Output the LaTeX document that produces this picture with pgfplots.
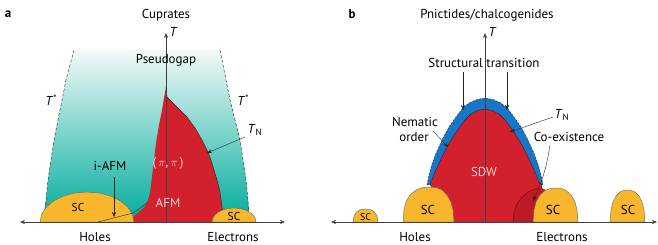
\documentclass[border=0pt]{standalone}
\usepackage{fontspec}
\setmainfont{PT Sans}
\usepackage{pgfplots}
\pgfplotsset{compat=1.18}
\usetikzlibrary{arrows.meta}
\definecolor{afmred}{RGB}{210,32,44}
\definecolor{coexred}{RGB}{188,26,36}
\definecolor{scyel}{RGB}{248,182,44}
\definecolor{nemblue}{RGB}{22,118,200}
\definecolor{tealbot}{RGB}{0,172,156}
\definecolor{tealmid}{RGB}{80,192,181}
\definecolor{tealtop}{RGB}{242,249,248}
\definecolor{txt}{RGB}{80,80,80}
\definecolor{lbl}{RGB}{245,210,210}
\newcommand{\fs}{\fontsize{13}{15}\selectfont}
\newcommand{\fss}{\fontsize{11.5}{13}\selectfont}
\begin{document}
\begin{tikzpicture}
\begin{axis}[
  at={(0,0)}, anchor=south west,
  width=658bp, height=245bp, scale only axis,
  xmin=0, xmax=658, ymin=0, ymax=245, y dir=reverse,
  axis lines=none, clip=false,
  every node/.style={text=txt},
]
%%%%%%%%%%%% Panel a
% pseudogap (teal gradient)
\addplot[draw=none, top color=tealtop, middle color=tealmid, bottom color=tealbot] coordinates {
 (74,50) (70,65) (66,80) (62,100) (58,120) (54,140) (51,160) (48,180) (46,200) (44,212) (43,222)
 (250,222) (249,212) (248,200) (246,180) (243,160) (240,140) (235,120) (230,100) (226,80) (223,65) (220,50)} -- cycle;
\addplot[black!85, thin, dash pattern=on 3pt off 2pt] coordinates {
 (74,50) (70,65) (66,80) (62,100) (58,120) (54,140) (51,160) (48,180) (46,200) (45,210)};
\addplot[black!85, thin, dash pattern=on 3pt off 2pt] coordinates {
 (220,50) (223,65) (226,80) (230,100) (235,120) (240,140) (243,160) (246,180) (248,200) (248.5,211)};
% AFM
\addplot[fill=afmred, draw=none] coordinates {
 (166,87) (167,97) (177,107) (187,117) (195,128) (202,140) (207,150) (211,160) (214,170) (217,180) (220,192) (222,207) (224,222)
 (130,222) (134,216) (140,211) (145,206) (148,200) (150,193) (151,185) (152,177) (154,160) (156,143) (159,125) (162,110) (164,98)} -- cycle;
\addplot[black!85, thin] coordinates {
 (166,87) (167,97) (177,107) (187,117) (195,128) (202,140) (207,150) (211,160) (214,170) (217,180) (220,192) (222,207) (224,222)};
% SC domes
\addplot[fill=scyel, draw=black!60, thin] coordinates {
 (134,222) (132.4,214.2) (127.7,207) (120.2,200.8) (110.5,196) (99.2,193) (87,192) (74.8,193) (63.5,196) (53.8,200.8) (46.3,207) (41.6,214.2) (40,222)} -- cycle;
\addplot[fill=scyel, draw=black!60, thin] coordinates {
 (256,222) (255.3,218.4) (253.1,215) (249.6,212.1) (245,209.9) (239.7,208.5) (234,208) (228.3,208.5) (223,209.9) (218.4,212.1) (214.9,215) (212.7,218.4) (212,222)} -- cycle;
% i-AFM line
\addplot[black!85, thin] coordinates {(98,222) (133,213) (147,203)};
% axes
\draw[black!75, thin, {Stealth[length=5pt,width=4pt]}-{Stealth[length=5pt,width=4pt]}] (20,222) -- (285,222);
\draw[black!75, thin, -{Stealth[length=5pt,width=4pt]}] (166,222) -- (166,33);
% arrows
\draw[black!85, thin, -{Stealth[length=5pt,width=4pt]}] (245,137) -- (207,153);
\draw[black!85, thin, -{Stealth[length=5pt,width=4pt]}] (114,177) -- (114,217);
% texts
\node[font=\fs\bfseries, text=black] at (8,14) {a};
\node[font=\fs] at (166,15) {Cuprates};
\node[font=\fs\itshape] at (173,32) {T};
\node[font=\fs] at (166,60) {Pseudogap};
\node[font=\fs] at (51,100) {\textit{T}\raisebox{0.6ex}{\small *}};
\node[font=\fs] at (243,100) {\textit{T}\raisebox{0.6ex}{\small *}};
\node[font=\fs] at (255,130) {\textit{T}\textsubscript{N}};
\node[font=\fs] at (110,166) {i-AFM};
\node[font=\fs, text=lbl] at (168,163) {(\,$\pi$,\,$\pi$\,)};
\node[font=\fs, text=lbl] at (168,203) {AFM};
\node[font=\fss] at (78,207) {SC};
\node[font=\fss] at (234,216) {SC};
\node[font=\fs] at (95,237) {Holes};
\node[font=\fs] at (233,237) {Electrons};
%%%%%%%%%%%% Panel b
% nematic (blue)
\addplot[fill=nemblue, draw=none] coordinates {
 (427,185) (429,175) (432,164) (437,151) (443,138) (449,127) (456,117) (462,109) (469,103) (477,99.5) (485,98)
 (493,99.5) (501,103) (508,109) (514,117) (521,127) (527,138) (533,151) (538,164) (541,175) (543,185)} -- cycle;
\addplot[black!85, thin, dash pattern=on 2pt off 1.5pt] coordinates {
 (427,185) (429,175) (432,164) (437,151) (443,138) (449,127) (456,117) (462,109) (469,103) (477,99.5) (485,98)
 (493,99.5) (501,103) (508,109) (514,117) (521,127) (527,138) (533,151) (538,164) (541,175) (543,185)};
% SDW (red)
\addplot[fill=afmred, draw=none] coordinates {
 (430,185) (431,182) (436,170) (441,159) (447,147) (453,137) (459,128) (465,120) (471,114) (478,110.5) (485,109)
 (492,110.5) (499,114) (505,120) (511,128) (517,137) (523,147) (529,159) (534,170) (539,182) (542,185)
 (545,222) (448,222) (440,200)} -- cycle;
\addplot[black!85, thin] coordinates {
 (430,185) (431,182) (436,170) (441,159) (447,147) (453,137) (459,128) (465,120) (471,114) (478,110.5) (485,109)
 (492,110.5) (499,114) (505,120) (511,128) (517,137) (523,147) (529,159) (534,170) (539,182) (542,185)};
% co-existence lens
\addplot[fill=coexred, draw=none] coordinates {
 (513,222) (514,212) (517,204) (522,197) (528,192) (535,189) (541,188) (546,190) (546,222)} -- cycle;
\addplot[black!60!afmred, thin] coordinates {
 (513,222) (514,212) (517,204) (522,197) (528,192) (535,189) (541,188)};
% SC domes
\addplot[fill=scyel, draw=black!60, thin] coordinates {
 (353,222) (354,216) (356.5,212) (360,209.8) (365.5,209) (371,209.8) (374.5,212) (377,216) (378,222)} -- cycle;
\addplot[fill=scyel, draw=black!60, thin] coordinates {
 (403,222) (404,210) (406,202) (410,195) (416,190) (423,187.5) (429,187) (436,187.5) (442,190) (447,195) (451,202) (453,210) (454,222)} -- cycle;
\addplot[fill=scyel, draw=black!60, thin] coordinates {
 (533,222) (534,210) (536,202) (540,195) (545,190.5) (551,188.3) (556,188) (561,188.3) (566,190.5) (571,195) (575,202) (577,210) (578,222)} -- cycle;
\addplot[fill=scyel, draw=black!60, thin] coordinates {
 (610,222) (611,210) (613,202) (616,196) (620,192) (624,190.3) (627.5,190) (631,190.3) (635,192) (639,196) (642,202) (644,210) (645,222)} -- cycle;
% axes
\draw[black!75, thin, {Stealth[length=5pt,width=4pt]}-{Stealth[length=5pt,width=4pt]}] (331,222) -- (657,222);
\draw[black!75, thin, -{Stealth[length=5pt,width=4pt]}] (485,222) -- (485,33);
% arrows
\draw[black!85, thin, -{Stealth[length=5pt,width=4pt]}] (463,72) -- (463,110);
\draw[black!85, thin, -{Stealth[length=5pt,width=4pt]}] (507,72) -- (507,110);
\draw[black!85, thin, -{Stealth[length=5pt,width=4pt]}] (433,131) -- (448,147);
\draw[black!85, thin, -{Stealth[length=5pt,width=4pt]}] (553,117) -- (510,132);
\draw[black!85, thin, -{Stealth[length=5pt,width=4pt]}] (550,145) to[bend left=8] (533,201);
% texts
\node[font=\fs\bfseries, text=black] at (352,14) {b};
\node[font=\fs] at (487,15) {Pnictides/chalcogenides};
\node[font=\fs\itshape] at (492,32) {T};
\node[font=\fs] at (484,63) {Structural transition};
\node[font=\fs] at (415,122) {Nematic};
\node[font=\fs] at (414,137) {order};
\node[font=\fs] at (562,115) {\textit{T}\textsubscript{N}};
\node[font=\fs] at (569,137) {Co-existence};
\node[font=\fs, text=lbl] at (484,172) {SDW};
\node[font=\fontsize{10}{11}\selectfont] at (365.5,217) {SC};
\node[font=\fs] at (428,210) {SC};
\node[font=\fs] at (553,210) {SC};
\node[font=\fs] at (628,210) {SC};
\node[font=\fs] at (415,237) {Holes};
\node[font=\fs] at (562,237) {Electrons};
\end{axis}
\pgfresetboundingbox
\path (0,0) rectangle (658bp,245bp);
\end{tikzpicture}
\end{document}
